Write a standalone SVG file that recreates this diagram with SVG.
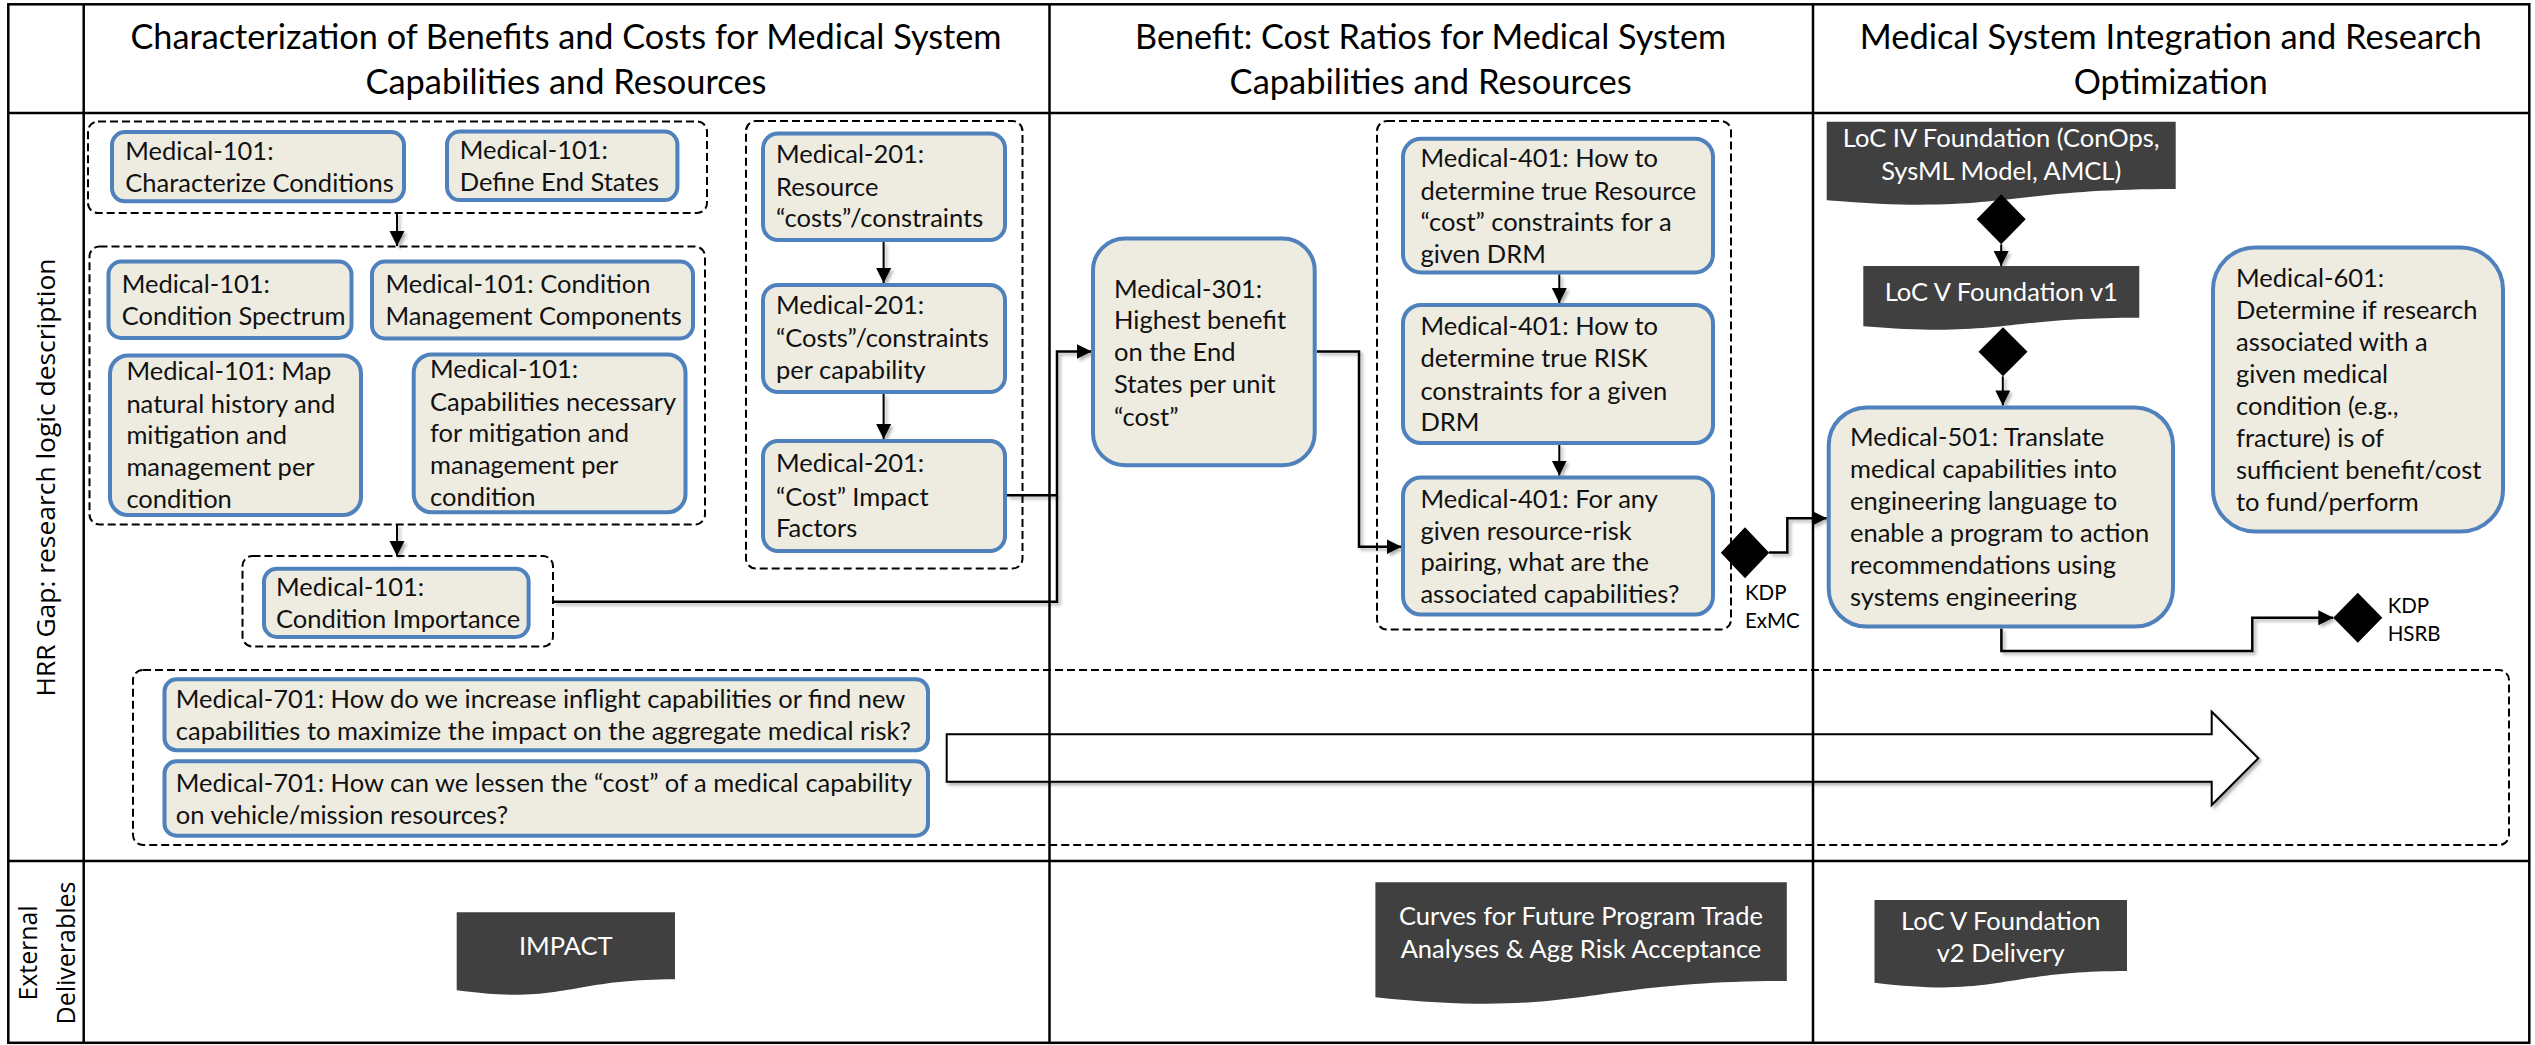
<svg xmlns="http://www.w3.org/2000/svg" width="2535" height="1045" viewBox="0 0 2535 1045">
<defs>
<style>
.grid{stroke:#000;stroke-width:2.5;fill:none}
.hdr{font-family:Lato,"Liberation Sans",sans-serif;font-size:35px;fill:#000;text-anchor:middle}
.side{font-family:"Open Sans","DejaVu Sans",sans-serif;font-size:25px;fill:#000;text-anchor:middle}
.box{fill:#EEECE1;stroke:#4F81BD;stroke-width:4}
.grp{fill:none;stroke:#000;stroke-width:2;stroke-dasharray:8 4}
.t{font-family:Lato,"Liberation Sans",sans-serif;font-size:25.5px;fill:#111}
.doc{fill:#404040}
.dt{font-family:Lato,"Liberation Sans",sans-serif;font-size:25.5px;fill:#fff;text-anchor:middle}
.kdp{font-family:Lato,"Liberation Sans",sans-serif;font-size:20.5px;fill:#000}
.dia{fill:#000}
.con{fill:none;stroke:#000;stroke-width:2.5}
.con2{fill:none;stroke:#000;stroke-width:2}
</style>
<marker id="ah" markerUnits="userSpaceOnUse" markerWidth="16" markerHeight="16" refX="15" refY="7.5" orient="auto"><path d="M0,0 L15,7.5 L0,15 z" fill="#000"/></marker>
<filter id="sh" x="-5%" y="-5%" width="110%" height="110%"><feDropShadow dx="2.5" dy="2.5" stdDeviation="1.5" flood-color="#000" flood-opacity="0.3"/></filter>
</defs>
<rect width="2535" height="1045" fill="#fff"/>

<!-- headers -->
<g id="header-col1"><text class="hdr" x="566" y="49" textLength="871" lengthAdjust="spacingAndGlyphs">Characterization of Benefits and Costs for Medical System</text><text class="hdr" x="566" y="93.5" textLength="401" lengthAdjust="spacingAndGlyphs">Capabilities and Resources</text></g>
<g id="header-col2"><text class="hdr" x="1430.6" y="49" textLength="591" lengthAdjust="spacingAndGlyphs">Benefit: Cost Ratios for Medical System</text><text class="hdr" x="1430.6" y="93.5" textLength="402" lengthAdjust="spacingAndGlyphs">Capabilities and Resources</text></g>
<g id="header-col3"><text class="hdr" x="2170.7" y="49" textLength="622" lengthAdjust="spacingAndGlyphs">Medical System Integration and Research</text><text class="hdr" x="2170.7" y="93.5" textLength="194" lengthAdjust="spacingAndGlyphs">Optimization</text></g>
<g id="row-labels">
<text class="side" transform="translate(55,477.5) rotate(-90)" textLength="438" lengthAdjust="spacingAndGlyphs">HRR Gap: research logic description</text>
<text class="side" transform="translate(37.3,953) rotate(-90)" textLength="95" lengthAdjust="spacingAndGlyphs">External</text>
<text class="side" transform="translate(74.6,953) rotate(-90)" textLength="143" lengthAdjust="spacingAndGlyphs">Deliverables</text>
</g>

<!-- dashed groups -->
<g id="group-101a"><rect class="grp" x="88" y="121.5" width="619" height="91.5" rx="10"/></g>
<g id="group-101b"><rect class="grp" x="89.5" y="246.5" width="615.5" height="278" rx="10"/></g>
<g id="group-201"><rect class="grp" x="746" y="121" width="276.5" height="447.5" rx="10"/></g>
<g id="group-401"><rect class="grp" x="1377" y="121" width="354" height="508.5" rx="10"/></g>
<g id="group-101c"><rect class="grp" x="242.5" y="556" width="310.5" height="90.5" rx="10"/></g>
<g id="group-701"><rect class="grp" x="133" y="670" width="2376" height="175" rx="10"/></g>

<!-- connectors -->
<g id="connectors" filter="url(#sh)">
<path class="con2" d="M397,213 V246" marker-end="url(#ah)"/>
<path class="con2" d="M397,524.5 V556" marker-end="url(#ah)"/>
<path class="con2" d="M883.6,242 V283" marker-end="url(#ah)"/>
<path class="con2" d="M883.6,394 V439" marker-end="url(#ah)"/>
<path class="con" d="M553,601.7 H1057 V351.5 H1091.5" marker-end="url(#ah)"/>
<path class="con" d="M1007,495.3 H1057"/>
<path class="con" d="M1316.7,351.5 H1359 V546.7 H1401.5" marker-end="url(#ah)"/>
<path class="con2" d="M1559.3,274.4 V303" marker-end="url(#ah)"/>
<path class="con2" d="M1559.3,444 V475.6" marker-end="url(#ah)"/>
<path class="con" d="M1769,552.5 H1787.3 V518.3 H1826.7" marker-end="url(#ah)"/>
<path class="con2" d="M2001.2,244.3 V266" marker-end="url(#ah)"/>
<path class="con2" d="M2002.8,376.3 V405.4" marker-end="url(#ah)"/>
<path class="con" d="M2001.4,628.6 V651 H2252.3 V617.7 H2333.3" marker-end="url(#ah)"/>
<path d="M946.7,734.3 H2211.7 V711.7 L2258.3,758.3 L2211.7,805 V781.7 H946.7 Z" fill="#fff" stroke="#000" stroke-width="2"/>
</g>

<!-- Medical-101 nodes -->
<g id="m101-characterize"><rect class="box" x="112" y="132" width="292" height="69.3" rx="13"/><text class="t" x="125.3" y="160">Medical-101:</text><text class="t" x="125.3" y="192">Characterize Conditions</text></g>
<g id="m101-endstates"><rect class="box" x="447" y="131.6" width="230.4" height="68.5" rx="13"/><text class="t" x="459.7" y="159">Medical-101:</text><text class="t" x="459.7" y="191">Define End States</text></g>
<g id="m101-spectrum"><rect class="box" x="108.5" y="261.5" width="243" height="76.5" rx="13"/><text class="t" x="121.7" y="292.6">Medical-101:</text><text class="t" x="121.7" y="324.8">Condition Spectrum</text></g>
<g id="m101-components"><rect class="box" x="372" y="261.5" width="321" height="77" rx="13"/><text class="t" x="385.4" y="292.6">Medical-101: Condition</text><text class="t" x="385.4" y="324.8">Management Components</text></g>
<g id="m101-map"><rect class="box" x="110" y="355.5" width="251" height="159.5" rx="18"/><text class="t" x="126.4" y="380">Medical-101: Map</text><text class="t" x="126.4" y="412.6">natural history and</text><text class="t" x="126.4" y="444.4">mitigation and</text><text class="t" x="126.4" y="476">management per</text><text class="t" x="126.4" y="508">condition</text></g>
<g id="m101-capabilities"><rect class="box" x="413.7" y="354.5" width="271.8" height="157.8" rx="18"/><text class="t" x="430" y="378.4">Medical-101:</text><text class="t" x="430" y="410.5">Capabilities necessary</text><text class="t" x="430" y="442">for mitigation and</text><text class="t" x="430" y="474">management per</text><text class="t" x="430" y="506">condition</text></g>
<g id="m101-importance"><rect class="box" x="264" y="568.7" width="264.6" height="68.3" rx="13"/><text class="t" x="276" y="595.7">Medical-101:</text><text class="t" x="276" y="628">Condition Importance</text></g>

<!-- Medical-201 nodes -->
<g id="m201-resource"><rect class="box" x="763" y="133.5" width="242" height="106.5" rx="15"/><text class="t" x="776" y="163.4">Medical-201:</text><text class="t" x="776" y="195.5">Resource</text><text class="t" x="776" y="227">“costs”/constraints</text></g>
<g id="m201-percap"><rect class="box" x="763" y="285" width="242" height="107" rx="15"/><text class="t" x="776" y="314.4">Medical-201:</text><text class="t" x="776" y="346.6">“Costs”/constraints</text><text class="t" x="776" y="379.4">per capability</text></g>
<g id="m201-impact"><rect class="box" x="763" y="441" width="242" height="110" rx="15"/><text class="t" x="776" y="472.3">Medical-201:</text><text class="t" x="776" y="505.5">“Cost” Impact</text><text class="t" x="776" y="536.6">Factors</text></g>

<!-- Medical-301 -->
<g id="m301"><rect class="box" x="1093" y="238.5" width="221.7" height="226.8" rx="32"/><text class="t" x="1114" y="297.6">Medical-301:</text><text class="t" x="1114" y="329.2">Highest benefit</text><text class="t" x="1114" y="360.7">on the End</text><text class="t" x="1114" y="393.1">States per unit</text><text class="t" x="1114" y="425.5">“cost”</text></g>

<!-- Medical-401 -->
<g id="m401-resource"><rect class="box" x="1403" y="138.8" width="310" height="133.6" rx="18"/><text class="t" x="1420.4" y="167.1">Medical-401: How to</text><text class="t" x="1420.4" y="199.5">determine true Resource</text><text class="t" x="1420.4" y="231.1">“cost” constraints for a</text><text class="t" x="1420.4" y="262.7">given DRM</text></g>
<g id="m401-risk"><rect class="box" x="1403" y="305" width="310" height="138" rx="18"/><text class="t" x="1420.4" y="335">Medical-401: How to</text><text class="t" x="1420.4" y="367">determine true RISK</text><text class="t" x="1420.4" y="399.5">constraints for a given</text><text class="t" x="1420.4" y="431">DRM</text></g>
<g id="m401-pairing"><rect class="box" x="1403" y="477.5" width="310" height="137" rx="18"/><text class="t" x="1420.4" y="507.6">Medical-401: For any</text><text class="t" x="1420.4" y="539.6">given resource-risk</text><text class="t" x="1420.4" y="571.2">pairing, what are the</text><text class="t" x="1420.4" y="602.8">associated capabilities?</text></g>

<!-- KDP ExMC -->
<g id="kdp-exmc"><polygon class="dia" points="1745,527.3 1769.2,552.8 1745,578.3 1720.8,552.8"/><text class="kdp" x="1745" y="600">KDP</text><text class="kdp" x="1745" y="628.3">ExMC</text></g>

<!-- Column 3 -->
<g id="loc-iv"><path class="doc" d="M1826.7,121.7 H2175.7 V189.1 C2001.2,189.1 2001.2,214.7 1826.7,200.2 Z"/><text class="dt" x="2001.2" y="146.7">LoC IV Foundation (ConOps,</text><text class="dt" x="2001.2" y="180">SysML Model, AMCL)</text></g>
<g id="gate-1"><polygon class="dia" points="2001.2,194.3 2025.7,219.3 2001.2,244.3 1976.7,219.3"/></g>
<g id="loc-v1"><path class="doc" d="M1863.3,266 H2139.3 V317.7 C2001.3,317.7 2001.3,337.4 1863.3,326.2 Z"/><text class="dt" x="2001.3" y="300.7">LoC V Foundation v1</text></g>
<g id="gate-2"><polygon class="dia" points="2003,327.2 2027.5,351.7 2003,376.3 1978.5,351.7"/></g>
<g id="m501"><rect class="box" x="1828.7" y="407.4" width="344.3" height="219.2" rx="38"/><text class="t" x="1850" y="445.5">Medical-501: Translate</text><text class="t" x="1850" y="477.6">medical capabilities into</text><text class="t" x="1850" y="509.8">engineering language to</text><text class="t" x="1850" y="542">enable a program to action</text><text class="t" x="1850" y="574">recommendations using</text><text class="t" x="1850" y="606.2">systems engineering</text></g>
<g id="m601"><rect class="box" x="2213" y="247.5" width="290" height="284" rx="42"/><text class="t" x="2236" y="287">Medical-601:</text><text class="t" x="2236" y="319">Determine if research</text><text class="t" x="2236" y="351">associated with a</text><text class="t" x="2236" y="383">given medical</text><text class="t" x="2236" y="415">condition (e.g.,</text><text class="t" x="2236" y="447">fracture) is of</text><text class="t" x="2236" y="479">sufficient benefit/cost</text><text class="t" x="2236" y="511">to fund/perform</text></g>
<g id="kdp-hsrb"><polygon class="dia" points="2357.8,592.7 2382.3,617.7 2357.8,642.7 2333.3,617.7"/><text class="kdp" x="2387.7" y="612.7">KDP</text><text class="kdp" x="2387.7" y="641">HSRB</text></g>

<!-- Medical-701 -->
<g id="m701-increase"><rect class="box" x="164.5" y="679.3" width="763.5" height="71" rx="12"/><text class="t" x="175.8" y="708">Medical-701: How do we increase inflight capabilities or find new</text><text class="t" x="175.8" y="740.3">capabilities to maximize the impact on the aggregate medical risk?</text></g>
<g id="m701-lessen"><rect class="box" x="164.5" y="761.3" width="763.5" height="74.4" rx="12"/><text class="t" x="175.8" y="792.3">Medical-701: How can we lessen the “cost” of a medical capability</text><text class="t" x="175.8" y="824">on vehicle/mission resources?</text></g>

<!-- deliverables -->
<g id="impact"><path class="doc" d="M456.7,912.3 H675 V979.3 C565.85,979.3 565.85,1004.8 456.7,990.3 Z"/><text class="dt" x="565.8" y="955">IMPACT</text></g>
<g id="curves"><path class="doc" d="M1375.4,882.3 H1786.8 V981 C1581.1,981 1581.1,1018.5 1375.4,997.2 Z"/><text class="dt" x="1581" y="925">Curves for Future Program Trade</text><text class="dt" x="1581" y="957.5">Analyses &amp; Agg Risk Acceptance</text></g>
<g id="loc-v2"><path class="doc" d="M1874.5,900 H2127 V971 C2000.75,971 2000.75,998 1874.5,982.7 Z"/><text class="dt" x="2000.7" y="930">LoC V Foundation</text><text class="dt" x="2000.7" y="962">v2 Delivery</text></g>

<!-- table grid -->
<g id="grid">
<rect class="grid" x="8.3" y="4.3" width="2521" height="1038.5"/>
<line class="grid" x1="8.3" y1="113" x2="2529.3" y2="113"/>
<line class="grid" x1="8.3" y1="861" x2="2529.3" y2="861"/>
<line class="grid" x1="83.7" y1="4.3" x2="83.7" y2="1042.8"/>
<line class="grid" x1="1049.5" y1="4.3" x2="1049.5" y2="1042.8"/>
<line class="grid" x1="1813" y1="4.3" x2="1813" y2="1042.8"/>
</g>
</svg>
